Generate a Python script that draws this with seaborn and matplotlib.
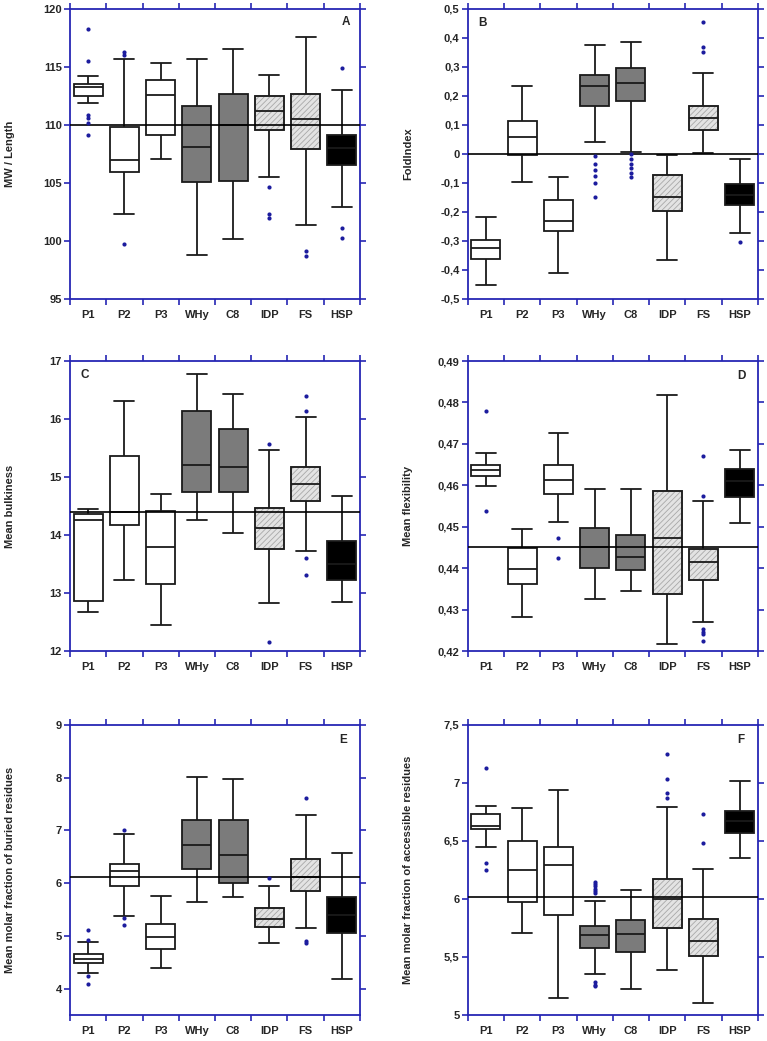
import numpy as np
import pandas as pd
import matplotlib
matplotlib.use("Agg")
import matplotlib.pyplot as plt
from matplotlib.patches import PathPatch
from matplotlib.colors import to_rgba
from matplotlib.ticker import FuncFormatter, MultipleLocator
import seaborn as sns

groups = ["P1", "P2", "P3", "WHy", "C8", "IDP", "FS", "HSP"]

# box stats per group: [whisker low, Q1, median, Q3, whisker high]
mw_box = [[111.87, 112.47, 113.25, 113.56, 114.2], [102.36, 105.92, 107.0, 109.86, 115.7],
          [107.04, 109.17, 112.56, 113.9, 115.3], [98.8, 105.09, 108.07, 111.6, 115.7],
          [100.2, 105.14, 109.97, 112.7, 116.58], [105.52, 109.54, 111.18, 112.53, 114.31],
          [101.35, 107.96, 110.49, 112.64, 117.56], [102.93, 106.58, 108.0, 109.17, 112.99]]
mw_out = [[118.3, 115.5, 110.9, 110.6, 110.2, 109.1], [116.3, 116.0, 99.7], [], [], [],
          [104.63, 102.36, 101.95], [99.14, 98.68], [114.91, 101.12, 100.26]]
mw_mean = 110.0

fold_box = [[-0.451, -0.361, -0.325, -0.295, -0.217], [-0.097, -0.005, 0.058, 0.112, 0.236],
            [-0.411, -0.265, -0.232, -0.158, -0.079], [0.040, 0.164, 0.234, 0.272, 0.376],
            [0.007, 0.181, 0.245, 0.298, 0.385], [-0.365, -0.198, -0.148, -0.071, -0.002],
            [0.003, 0.083, 0.125, 0.166, 0.278], [-0.272, -0.175, -0.14, -0.105, -0.018]]
fold_out = [[], [], [], [-0.008, -0.033, -0.056, -0.077, -0.1, -0.148],
            [-0.001, -0.016, -0.033, -0.05, -0.065, -0.079], [], [0.455, 0.370, 0.350], [-0.303]]
fold_mean = 0.0

bulk_box = [[12.68, 12.86, 14.26, 14.36, 14.45], [13.22, 14.18, 14.40, 15.37, 16.31],
            [12.45, 13.16, 13.80, 14.41, 14.70], [14.26, 14.75, 15.20, 16.14, 16.77],
            [14.03, 14.74, 15.17, 15.83, 16.43], [12.83, 13.76, 14.12, 14.46, 15.47],
            [13.73, 14.58, 14.88, 15.18, 16.04], [12.84, 13.22, 13.5, 13.89, 14.68]]
bulk_out = [[], [], [], [], [], [15.57, 12.16], [16.39, 16.13, 13.6, 13.31], []]
bulk_mean = 14.4

flex_box = [[0.4598, 0.4622, 0.4636, 0.4648, 0.4677], [0.4282, 0.4362, 0.4399, 0.4449, 0.4494],
            [0.4511, 0.4580, 0.4612, 0.4648, 0.4726], [0.4326, 0.4400, 0.4450, 0.4498, 0.4592],
            [0.4345, 0.4395, 0.4426, 0.4480, 0.4592], [0.4216, 0.4338, 0.4473, 0.4586, 0.4818],
            [0.4270, 0.4371, 0.4414, 0.4447, 0.4561], [0.4510, 0.4573, 0.4610, 0.4640, 0.4686]]
flex_out = [[0.4780, 0.4537], [], [0.4474, 0.4424], [], [], [],
            [0.4670, 0.4575, 0.4253, 0.4247, 0.4241, 0.4224], []]
flex_mean = 0.445

buried_box = [[4.30, 4.48, 4.57, 4.65, 4.89], [5.37, 5.95, 6.23, 6.36, 6.94],
              [4.39, 4.76, 4.98, 5.23, 5.75], [5.65, 6.26, 6.73, 7.19, 8.02],
              [5.73, 6.0, 6.53, 7.19, 7.97], [4.86, 5.16, 5.32, 5.53, 5.95],
              [5.14, 5.86, 6.12, 6.45, 7.30], [4.18, 5.05, 5.4, 5.74, 6.57]]
buried_out = [[5.12, 4.93, 4.23, 4.08], [7.0, 5.34, 5.20], [], [], [], [6.09], [7.61, 4.90, 4.86], []]
buried_mean = 6.12

access_box = [[6.45, 6.60, 6.63, 6.73, 6.80], [5.71, 5.97, 6.25, 6.50, 6.78],
              [5.15, 5.86, 6.29, 6.45, 6.94], [5.35, 5.58, 5.69, 5.77, 5.98],
              [5.22, 5.54, 5.70, 5.82, 6.08], [5.39, 5.75, 6.0, 6.17, 6.79],
              [5.10, 5.51, 5.64, 5.83, 6.26], [6.35, 6.57, 6.67, 6.76, 7.02]]
access_out = [[7.13, 6.31, 6.25], [], [], [6.15, 6.13, 6.11, 6.09, 6.07, 6.05, 5.28, 5.26, 5.25],
              [], [7.25, 7.03, 6.91, 6.87], [6.73, 6.48], []]
access_mean = 6.02

fills = {"P1": "white", "P2": "white", "P3": "white", "WHy": "#7b7b7b", "C8": "#7b7b7b",
         "IDP": "#e3e3e3", "FS": "#e3e3e3", "HSP": "black"}
blue = "#2626b4"
dot_blue = "#1c1c9e"

sns.set_theme(style="white")
plt.rcParams["font.family"] = ["Liberation Sans", "DejaVu Sans"]
plt.rcParams["font.weight"] = "bold"
plt.rcParams["hatch.linewidth"] = 0.6


def comma_fmt(v, pos):
    if abs(v) < 1e-9:
        return "0"
    return f"{round(v, 6):g}".replace(".", ",")


def draw_panel(ax, box, out, mean, ylabel, letter, ylim, step, lx, ly):
    df = pd.DataFrame({"group": np.repeat(groups, 5), "value": np.concatenate(box)})
    sns.boxplot(data=df, x="group", y="value", hue="group", order=groups, hue_order=groups,
                palette=fills, legend=False, whis=(0, 100), width=0.8, showfliers=False,
                linewidth=1.3, linecolor="#1a1a1a", saturation=1, capwidths=0.55, ax=ax)
    odf = pd.DataFrame({"group": np.repeat(groups, [len(o) for o in out]),
                        "value": np.concatenate([np.array(o, dtype=float) for o in out])})
    sns.stripplot(data=odf, x="group", y="value", order=groups, jitter=False,
                  color=dot_blue, size=3, linewidth=0, ax=ax, zorder=6)

    # hatched light-grey boxes: grey hatch, dark outline on top
    light = to_rgba(fills["IDP"])
    for p in list(ax.patches):
        if np.allclose(p.get_facecolor(), light, atol=0.01):
            p.set_edgecolor("#a8a8a8")
            p.set_hatch("//////")
            ax.add_patch(PathPatch(p.get_path(), transform=p.get_transform(), fill=False,
                                   edgecolor="#1a1a1a", lw=1.3, zorder=p.get_zorder() + 0.1))

    ax.axhline(mean, color="black", lw=1.2, zorder=5)
    ax.set_xlim(-0.5, 7.5)
    ax.set_ylim(*ylim)
    ax.set_xlabel("")
    ax.set_ylabel(ylabel, fontsize=8, fontweight="bold")
    ax.yaxis.set_label_coords(-0.19, 0.5)
    ax.set_xticks(range(len(groups)))
    ax.set_xticklabels(groups)
    ax.set_xticks(np.arange(-0.5, len(groups), 1), minor=True)
    ax.tick_params(axis="x", which="major", length=0, pad=8, labelsize=8)
    ax.tick_params(axis="x", which="minor", length=4, width=1.2, color=blue,
                   top=True, bottom=True, direction="out")
    ax.yaxis.set_major_locator(MultipleLocator(step))
    ax.yaxis.set_major_formatter(FuncFormatter(comma_fmt))
    ax.tick_params(axis="y", length=4, width=1.2, color=blue, left=True, right=True,
                   direction="out", labelsize=8, pad=2)
    for s in ax.spines.values():
        s.set_visible(True)
        s.set_color(blue)
        s.set_linewidth(1.3)
    ax.text(lx, ly, letter, transform=ax.transAxes, ha="center", va="center",
            fontsize=8.5, fontweight="bold")


fig = plt.figure(figsize=(7.67, 10.41), dpi=100)
w, h = 0.378, 0.2786
left_x, right_x = 0.0913, 0.610
rows_y = [0.7128, 0.3746, 0.025]

ax_a = fig.add_axes([left_x, rows_y[0], w, h])
ax_b = fig.add_axes([right_x, rows_y[0], w, h])
ax_c = fig.add_axes([left_x, rows_y[1], w, h])
ax_d = fig.add_axes([right_x, rows_y[1], w, h])
ax_e = fig.add_axes([left_x, rows_y[2], w, h])
ax_f = fig.add_axes([right_x, rows_y[2], w, h])

draw_panel(ax_a, mw_box, mw_out, mw_mean, "MW / Length", "A", (95, 120), 5, 0.952, 0.955)
draw_panel(ax_b, fold_box, fold_out, fold_mean, "FoldIndex", "B", (-0.5, 0.5), 0.1, 0.052, 0.95)
draw_panel(ax_c, bulk_box, bulk_out, bulk_mean, "Mean bulkiness", "C", (12, 17), 1, 0.052, 0.952)
draw_panel(ax_d, flex_box, flex_out, flex_mean, "Mean flexibility", "D", (0.42, 0.49), 0.01, 0.945, 0.948)
draw_panel(ax_e, buried_box, buried_out, buried_mean, "Mean molar fraction of buried residues", "E",
           (3.5, 9), 1, 0.942, 0.948)
draw_panel(ax_f, access_box, access_out, access_mean, "Mean molar fraction of accessible residues", "F",
           (5, 7.5), 0.5, 0.943, 0.948)

fig.savefig("out.png", dpi=100)
